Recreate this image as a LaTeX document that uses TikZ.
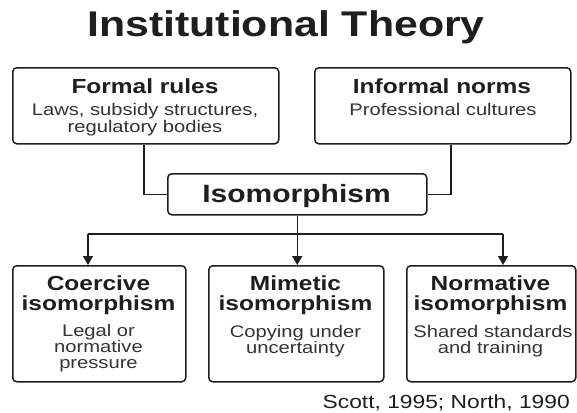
\documentclass[tikz,border=0pt]{standalone}
\usepackage{fontspec}
\setmainfont{Liberation Sans}[FakeStretch=1.2]
\usetikzlibrary{arrows.meta}
\definecolor{ink}{HTML}{1E1E1E}
\definecolor{bodytext}{HTML}{333333}
\begin{document}
\begin{tikzpicture}[x=1pt,y=-1pt,
  box/.style={draw=ink,line width=1.5pt,rounded corners=4pt,fill=white,inner sep=0pt,anchor=north west},
  conn/.style={draw=ink,line width=1.5pt},
  arr/.style={conn,-{Triangle[width=10pt,length=9pt]}},
  titletext/.style={font=\fontsize{35.7}{40}\selectfont\bfseries,text=ink,anchor=base,inner sep=0pt},
  isotext/.style={font=\fontsize{25}{30}\selectfont\bfseries,text=ink,anchor=base,inner sep=0pt},
  headtext/.style={font=\fontsize{20.4}{24}\selectfont\bfseries,text=ink,anchor=base,inner sep=0pt},
  bodyline/.style={font=\fontsize{16.8}{20}\selectfont,text=bodytext,anchor=base,inner sep=0pt},
  citetext/.style={font=\fontsize{19}{22}\selectfont,text=ink,anchor=base east,inner sep=0pt}]
\useasboundingbox[fill=white] (0,0) rectangle (577,412);

% title
\node[titletext] (title) at (286,37) {Institutional Theory};

% top boxes
\node[box,minimum width=266pt,minimum height=76pt] (formal) at (12,67) {};
\node[headtext] (formalH) at (145,93) {Formal rules};
\node[bodyline] (formalB1) at (145,115) {Laws, subsidy structures,};
\node[bodyline] (formalB2) at (145,132) {regulatory bodies};

\node[box,minimum width=256pt,minimum height=76pt] (informal) at (314,67) {};
\node[headtext] (informalH) at (442,93) {Informal norms};
\node[bodyline] (informalB1) at (443,115) {Professional cultures};

% isomorphism
\node[box,minimum width=259pt,minimum height=41pt] (iso) at (167,173) {};
\node[isotext] (isoT) at (296.5,202) {Isomorphism};

\draw[conn] ([xshift=-2pt]formal.south) |- (iso.west);
\draw[conn] ([xshift=8pt]informal.south) |- (iso.east);

% bottom boxes
\node[box,minimum width=173pt,minimum height=116pt] (coer) at (12,265) {};
\node[headtext] (coerH1) at (98.5,290) {Coercive};
\node[headtext] (coerH2) at (98.5,310) {isomorphism};
\node[bodyline] (coerB1) at (98.5,336) {Legal or};
\node[bodyline] (coerB2) at (98.5,352) {normative};
\node[bodyline] (coerB3) at (98.5,368) {pressure};

\node[box,minimum width=175pt,minimum height=116pt] (mim) at (208,265) {};
\node[headtext] (mimH1) at (295.5,290) {Mimetic};
\node[headtext] (mimH2) at (295.5,310) {isomorphism};
\node[bodyline] (mimB1) at (295.5,337) {Copying under};
\node[bodyline] (mimB2) at (295.5,353) {uncertainty};

\node[box,minimum width=169pt,minimum height=116pt] (norm) at (406,265) {};
\node[headtext] (normH1) at (490.5,290) {Normative};
\node[headtext] (normH2) at (490.5,310) {isomorphism};
\node[bodyline] (normB1) at (493,337) {Shared standards};
\node[bodyline] (normB2) at (490.5,353) {and training};

% connectors from isomorphism
\coordinate (bus) at (296.5,234);
\coordinate (busL) at (88,234);
\coordinate (busR) at (503,234);
\draw[arr] (iso.south) -- (iso.south |- mim.north);
\draw[conn] (busL) -- (busR);
\draw[arr] (busL) -- (busL |- coer.north);
\draw[arr] (busR) -- (busR |- norm.north);

% citation
\node[citetext] (cite) at (570,408) {Scott, 1995; North, 1990};
\end{tikzpicture}
\end{document}
